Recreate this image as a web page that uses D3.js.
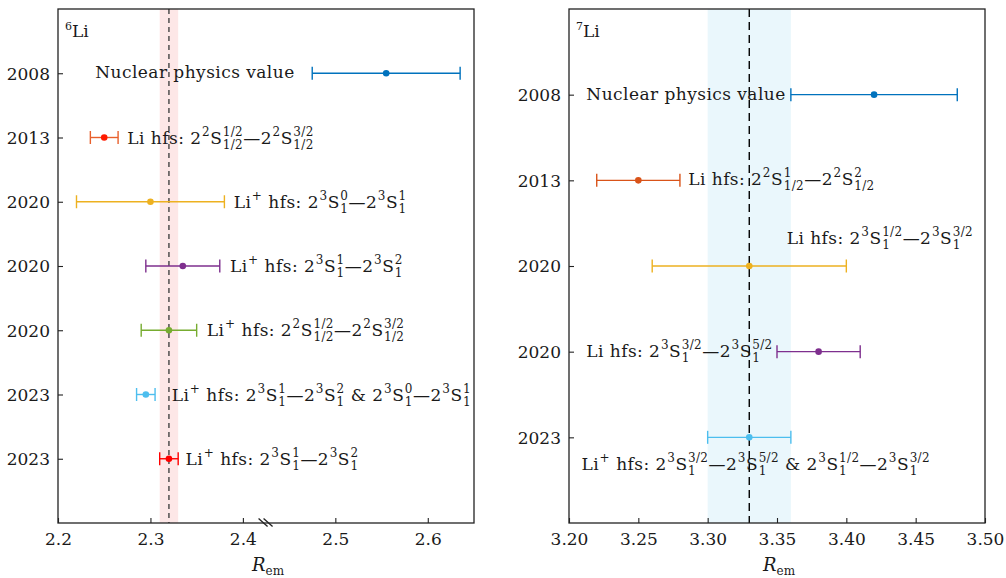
<!DOCTYPE html>
<html><head><meta charset="utf-8">
<script src="https://cdn.jsdelivr.net/npm/d3@7"></script>
<style>
body{margin:0;background:#fff}
text{font-family:"DejaVu Serif",serif;fill:#1a1a1a;white-space:pre}
</style>
</head><body>
<svg id="c" width="1006" height="578"></svg>
<script>
// ---------- data ----------
const li6Years = ["2008","2013","2020","2020","2020","2023","2023"];
const li6Values = [2.555, 2.25, 2.30, 2.335, 2.32, 2.295, 2.32];
const li6Errors = [0.08, 0.015, 0.08, 0.04, 0.03, 0.01, 0.01];
const li6Labels = [
  "Nuclear physics value",
  "Li hfs: 2^{2}S^{1/2}_{1/2}—2^{2}S^{3/2}_{1/2}",
  "Li^{+} hfs: 2^{3}S^{0}_{1}—2^{3}S^{1}_{1}",
  "Li^{+} hfs: 2^{3}S^{1}_{1}—2^{3}S^{2}_{1}",
  "Li^{+} hfs: 2^{2}S^{1/2}_{1/2}—2^{2}S^{3/2}_{1/2}",
  "Li^{+} hfs: 2^{3}S^{1}_{1}—2^{3}S^{2}_{1} & 2^{3}S^{0}_{1}—2^{3}S^{1}_{1}",
  "Li^{+} hfs: 2^{3}S^{1}_{1}—2^{3}S^{2}_{1}"
];
const li6Ticks = [2.2, 2.3, 2.4, 2.5, 2.6];
const li6Band = [2.31, 2.33];
const li6Mean = 2.32;

const li7Years = ["2008","2013","2020","2020","2023"];
const li7Values = [3.42, 3.25, 3.33, 3.38, 3.33];
const li7Errors = [0.06, 0.03, 0.07, 0.03, 0.03];
const li7Labels = [
  "Nuclear physics value",
  "Li hfs: 2^{2}S^{1}_{1/2}—2^{2}S^{2}_{1/2}",
  "Li hfs: 2^{3}S^{1/2}_{1}—2^{3}S^{3/2}_{1}",
  "Li hfs: 2^{3}S^{3/2}_{1}—2^{3}S^{5/2}_{1}",
  "Li^{+} hfs: 2^{3}S^{3/2}_{1}—2^{3}S^{5/2}_{1} & 2^{3}S^{1/2}_{1}—2^{3}S^{3/2}_{1}"
];
const li7Ticks = [3.20, 3.25, 3.30, 3.35, 3.40, 3.45, 3.50];
const li7Band = [3.30, 3.36];
const li7Mean = 3.33;

// ---------- styles / layout ----------
const FONT = '"DejaVu Serif",serif';
const li6Colors = ["#0072BD","#E8602C","#EDB120","#7E2F8E","#77AC30","#4DBEEE","#FF0000"];
const li6Marker = ["#0072BD","#FF1A00","#EDB120","#7E2F8E","#77AC30","#4DBEEE","#FF0000"];
const li7Colors = ["#0072BD","#D95319","#EDB120","#7E2F8E","#4DBEEE"];
const li6LabelPos = [[2.456,"end",5],[2.275,"start",6],[2.39,"start",6],[2.386,"start",6],[2.361,"start",6],[2.323,"start",6],[2.338,"start",6]];
const li7LabelPos = [[3.3563,"end",5],[3.286,"start",5],[3.357,"start",-22],[3.347,"end",5],[3.209,"start",33]];

const svg = d3.select("#c");
const FS = 17, SS = 12, LS = "0.45px";

function parseRich(s){
  const out=[]; let i=0, buf="";
  while(i<s.length){
    const c=s[i];
    if((c==="^"||c==="_") && s[i+1]==="{"){
      if(buf){out.push({t:buf}); buf="";}
      const j=s.indexOf("}",i);
      const content=s.slice(i+2,j);
      const key = c==="^"?"sup":"sub";
      const last=out[out.length-1];
      if(last && last.script && last.open && last[key]===undefined){ last[key]=content; last.open=false; }
      else { const o={script:true,open:true}; o[key]=content; out.push(o); }
      i=j+1;
    } else {
      const last=out[out.length-1];
      if(last && last.script) last.open=false;
      buf+=c; i++;
    }
  }
  if(buf) out.push({t:buf});
  return out;
}

function drawRich(parent, str, x, y, anchor){
  const g=parent.append("g");
  let cx=0;
  parseRich(str).forEach(seg=>{
    if(seg.t!==undefined){
      const t=g.append("text").attr("x",cx).attr("y",0).style("font-family",FONT).style("font-size",FS+"px").style("letter-spacing",LS).text(seg.t);
      cx+=t.node().getComputedTextLength();
    } else {
      let w=0;
      if(seg.sup!==undefined){
        const t=g.append("text").attr("x",cx+0.5).attr("y",-8).style("font-family",FONT).style("font-size",SS+"px").style("letter-spacing","0.3px").text(seg.sup);
        w=Math.max(w,t.node().getComputedTextLength()+0.8);
      }
      if(seg.sub!==undefined){
        const t=g.append("text").attr("x",cx+0.5).attr("y",5).style("font-family",FONT).style("font-size",SS+"px").style("letter-spacing","0.3px").text(seg.sub);
        w=Math.max(w,t.node().getComputedTextLength()+0.8);
      }
      cx+=w;
    }
  });
  const tx = anchor==="end" ? x-cx : x;
  g.attr("transform",`translate(${tx},${y})`);
  return g;
}

function panel(opt){
  const {x0,x1,y0,y1,domain,ticks,fmt,years,values,errors,colors,markers,labels,labelPos,band,mean,bandColor,dash,dashColor,iso} = opt;
  const n=years.length;
  const x=d3.scaleLinear().domain(domain).range([x0,x1]);
  const y=d3.scaleLinear().domain([0,n+1]).range([y0,y1]);
  const g=svg.append("g");
  g.append("rect").attr("x",x(band[0])).attr("y",y0).attr("width",x(band[1])-x(band[0])).attr("height",y1-y0).attr("fill",bandColor);
  g.append("line").attr("x1",x(mean)).attr("x2",x(mean)).attr("y1",y0).attr("y2",y1)
    .attr("stroke",dashColor).attr("stroke-width",1.4).attr("stroke-dasharray",dash);
  const idx=d3.range(n);
  const pos=i=>i+1;
  const eb=g.selectAll(".eb").data(idx).join("g");
  eb.append("line").attr("x1",i=>x(values[i]-errors[i])).attr("x2",i=>x(values[i]+errors[i]))
    .attr("y1",i=>y(pos(i))).attr("y2",i=>y(pos(i))).attr("stroke",i=>colors[i]).attr("stroke-width",1.4);
  [-1,1].forEach(sg=>{
    eb.append("line").attr("x1",i=>x(values[i]+sg*errors[i])).attr("x2",i=>x(values[i]+sg*errors[i]))
      .attr("y1",i=>y(pos(i))-6.5).attr("y2",i=>y(pos(i))+6.5).attr("stroke",i=>colors[i]).attr("stroke-width",1.4);
  });
  eb.append("circle").attr("cx",i=>x(values[i])).attr("cy",i=>y(pos(i))).attr("r",3.3).attr("fill",i=>markers[i]);
  idx.forEach(i=>{
    const lp=labelPos[i];
    drawRich(g, labels[i], x(lp[0]), y(pos(i))+lp[2], lp[1]);
  });
  g.append("rect").attr("x",x0).attr("y",y0).attr("width",x1-x0).attr("height",y1-y0)
    .attr("fill","none").attr("stroke","#222").attr("stroke-width",1.3);
  const xa=g.append("g").attr("transform",`translate(0,${y1})`)
    .call(d3.axisBottom(x).tickValues(ticks).tickFormat(fmt).tickSizeInner(-5).tickSizeOuter(0).tickPadding(10));
  xa.attr("font-family",null);
  xa.select(".domain").remove();
  xa.selectAll("line").attr("stroke","#222").attr("stroke-width",1.1);
  xa.selectAll("text").style("font-size",FS+"px").style("font-family",FONT).attr("fill","#1a1a1a");
  const ya=g.append("g").attr("transform",`translate(${x0},0)`)
    .call(d3.axisLeft(y).tickValues(idx.map(pos)).tickFormat(v=>years[v-1]).tickSizeInner(-5).tickSizeOuter(0).tickPadding(8));
  ya.attr("font-family",null);
  ya.select(".domain").remove();
  ya.selectAll("line").attr("stroke","#222").attr("stroke-width",1.1);
  ya.selectAll("text").style("font-size",FS+"px").style("font-family",FONT).attr("fill","#1a1a1a").attr("dy","0.35em");
  const il=g.append("text").attr("x",x0+7).attr("y",y0+28).style("font-family",FONT);
  il.append("tspan").style("font-size","11px").attr("dy",-7).text(iso[0]);
  il.append("tspan").style("font-size",FS+"px").attr("dy",7).text(iso[1]);
  const cx=(x0+x1)/2;
  const at=g.append("text").attr("x",cx-14).attr("y",571).style("font-family",FONT);
  at.append("tspan").style("font-size","18px").style("font-style","italic").text("R");
  at.append("tspan").style("font-size","12px").attr("dy",4).text("em");
  return {x,y,g};
}

const L = panel({x0:58,x1:474,y0:9,y1:523,domain:[2.2,2.65],ticks:li6Ticks,fmt:d3.format(".1f"),
  years:li6Years,values:li6Values,errors:li6Errors,colors:li6Colors,markers:li6Marker,labels:li6Labels,labelPos:li6LabelPos,
  band:li6Band,mean:li6Mean,bandColor:"#FDE7E7",dash:"5,4",dashColor:"#444",iso:["6","Li"]});
[-2.5,2.5].forEach(d=>{
  L.g.append("line").attr("x1",L.x(2.4245)+d-4.5).attr("x2",L.x(2.4245)+d+4.5).attr("y1",518.5).attr("y2",526.5)
    .attr("stroke","#222").attr("stroke-width",1.3);
});

panel({x0:569,x1:985,y0:9,y1:523,domain:[3.2,3.5],ticks:li7Ticks,fmt:d3.format(".2f"),
  years:li7Years,values:li7Values,errors:li7Errors,colors:li7Colors,markers:li7Colors,labels:li7Labels,labelPos:li7LabelPos,
  band:li7Band,mean:li7Mean,bandColor:"#EAF7FC",dash:"8,5",dashColor:"#000",iso:["7","Li"]});
</script>
</body></html>
